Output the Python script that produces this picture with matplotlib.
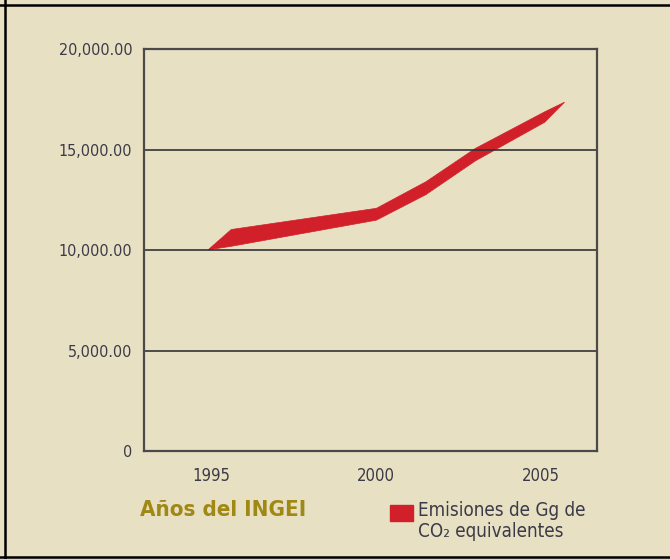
import matplotlib
matplotlib.use("Agg")
import matplotlib.pyplot as plt
from matplotlib.lines import Line2D
from matplotlib.patches import Rectangle

# band of emissions (Gg CO2 eq)
years = [1994.9, 1995.6, 2000.0, 2001.5, 2003.0, 2005.1, 2005.7]
emis_low = [10035, 10210, 11510, 12780, 14460, 16380, 17378]
emis_high = [10035, 11045, 12100, 13420, 15080, 16900, 17378]

xticks = [1995, 2000, 2005]
xticklabels = ['1995', '2000', '2005']
yticks = [0, 5000, 10000, 15000, 20000]
yticklabels = ['0', '5,000.00', '10,000.00', '15,000.00', '20,000.00']

title = 'Años del INGEI'
legend_label = 'Emisiones de Gg de\nCO₂ equivalentes'

bg = '#E8E0C3'
red = '#D2202A'
gold = '#A08814'
txt = '#3B3A48'

plt.rcParams['font.family'] = ['DejaVu Sans']
plt.rcParams['font.stretch'] = 'condensed'

fig = plt.figure(figsize=(6.70, 5.59), dpi=100, facecolor=bg)
ax = fig.add_axes([0.2149, 0.1932, 0.6761, 0.7191], facecolor=bg)

ax.fill_between(years, emis_low, emis_high, color=red, linewidth=0.5, edgecolor=red)

ax.set_xlim(1992.97, 2006.70)
ax.set_ylim(0, 20000)
ax.set_yticks(yticks)
ax.set_yticklabels(yticklabels)
ax.set_xticks(xticks)
ax.set_xticklabels(xticklabels)
ax.tick_params(axis='y', length=0, pad=8.5, labelsize=11.5, labelcolor=txt)
ax.tick_params(axis='x', length=0, pad=11.5, labelsize=12, labelcolor=txt)

for v in [5000, 10000, 15000]:
    ax.axhline(v, color='#333333', linewidth=1.2, zorder=1)
for s in ax.spines.values():
    s.set_color('#4a4a4a')
    s.set_linewidth(1.6)

fig.text(0.209, 0.0877, title, color=gold, fontsize=16, fontweight='bold',
         ha='left', va='center')

fig.add_artist(Rectangle((0.582, 0.068), 0.0343, 0.0286, color=red,
                         transform=fig.transFigure))
fig.text(0.624, 0.1035, legend_label, color=txt, fontsize=13.5, ha='left',
         va='top', linespacing=1.15)

# outer frame of the original image
fig.add_artist(Line2D([0.0075, 0.0075], [0, 1], color='black', linewidth=1.8))
fig.add_artist(Line2D([0, 1], [0.991, 0.991], color='black', linewidth=1.8))
fig.add_artist(Line2D([0, 1], [0.0036, 0.0036], color='black', linewidth=1.8))

fig.savefig('out.png', dpi=100, facecolor=bg)
